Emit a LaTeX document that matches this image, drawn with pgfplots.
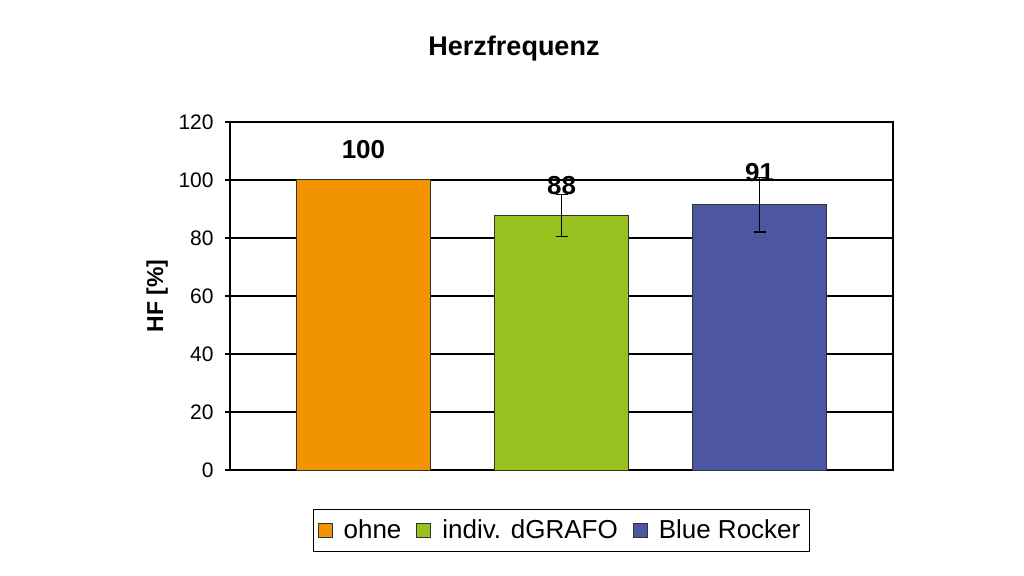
\documentclass[border=0pt]{standalone}
\usepackage{fontspec}
\setmainfont{Liberation Sans}
\usepackage{pgfplots}
\pgfplotsset{compat=1.18}
\definecolor{cOrange}{HTML}{F29400}
\definecolor{cGreen}{HTML}{97C11F}
\definecolor{cBlue}{HTML}{4D56A2}
\definecolor{cEdge}{HTML}{333333}
\pgfplotsset{sqlegend/.style={legend image code/.code={\draw[##1] (0bp,-3.5bp) rectangle (7bp,3.5bp);}}}
\begin{document}
\begin{tikzpicture}
\useasboundingbox[fill=white] (0,0) rectangle (512bp,288bp);
\node[anchor=base, font=\fontsize{13.5bp}{16bp}\selectfont\bfseries] at (257bp,260bp) {Herzfrequenz};
\begin{axis}[
  at={(115bp,53bp)}, anchor=south west,
  scale only axis, width=331.5bp, height=174bp,
  clip=false,
  xmin=-0.674, xmax=2.674,
  ymin=0, ymax=120,
  ytick={0,20,...,120},
  xtick=\empty,
  ymajorgrids,
  grid style={black, line width=0.6bp},
  axis line style={black, line width=0.7bp},
  tick style={black, line width=0.6bp},
  major tick length=2.5bp,
  tick align=outside,
  ytick pos=left,
  /pgf/number format/assume math mode=true,
  yticklabel style={font=\fontsize{10.5bp}{12bp}\selectfont, inner sep=1bp, xshift=-4.5bp},
  ylabel={HF [\%]},
  ylabel style={at={(axis description cs:-0.110,0.5)}, anchor=center, font=\fontsize{11.5bp}{14bp}\selectfont\bfseries},
  legend columns=3,
  legend style={at={(0.5,-0.174)}, anchor=center, draw=black, line width=0.7bp,
    font=\fontsize{13bp}{15bp}\selectfont, inner xsep=2.2bp, inner ysep=3bp,
    nodes={inner xsep=2.5bp}},
  /tikz/every even column/.append style={column sep=5bp},
  /tikz/every odd column/.append style={column sep=3bp},
]
\addplot[ybar, forget plot, bar shift=0pt, bar width=0.672, fill=cOrange, draw=cEdge, line width=0.5bp,
  point meta=y, nodes near coords={\pgfmathprintnumber[fixed,precision=0]{\pgfplotspointmeta}},
  every node near coord/.style={anchor=center, yshift=15bp, black, font=\fontsize{13bp}{15bp}\selectfont\bfseries}]
  coordinates {(0,100)};
\addplot[ybar, forget plot, bar shift=0pt, bar width=0.672, fill=cGreen, draw=cEdge, line width=0.5bp,
  point meta=y, nodes near coords={\pgfmathprintnumber[fixed,precision=0]{\pgfplotspointmeta}},
  every node near coord/.style={anchor=center, yshift=15bp, black, font=\fontsize{13bp}{15bp}\selectfont\bfseries},
  error bars/.cd, y dir=both, y explicit,
  error bar style={black, line width=0.7bp},
  error mark options={rotate=90, mark size=3bp, black, line width=0.7bp}]
  coordinates {(1,87.8) +- (0,7.2)};
\addplot[ybar, forget plot, bar shift=0pt, bar width=0.672, fill=cBlue, draw=cEdge, line width=0.5bp,
  point meta=y, nodes near coords={\pgfmathprintnumber[fixed,precision=0]{\pgfplotspointmeta}},
  every node near coord/.style={anchor=center, yshift=16bp, black, font=\fontsize{13bp}{15bp}\selectfont\bfseries},
  error bars/.cd, y dir=both, y explicit,
  error bar style={black, line width=0.7bp},
  error mark options={rotate=90, mark size=3bp, black, line width=0.7bp}]
  coordinates {(2,91.4) +- (0,9.4)};
\addlegendimage{sqlegend, fill=cOrange, draw=cEdge, line width=0.5bp}
\addlegendimage{sqlegend, fill=cGreen, draw=cEdge, line width=0.5bp}
\addlegendimage{sqlegend, fill=cBlue, draw=cEdge, line width=0.5bp}
\legend{ohne, indiv. dGRAFO, Blue Rocker}
\end{axis}
\end{tikzpicture}
\end{document}
